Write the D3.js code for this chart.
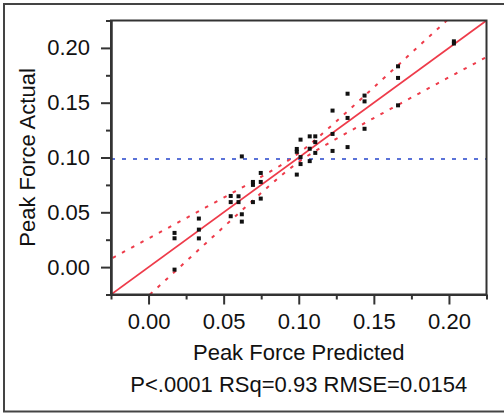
<!DOCTYPE html>
<html>
<head>
    <meta charset="utf-8">
    <title>Actual by Predicted Plot</title>
    <script src="https://cdn.jsdelivr.net/npm/d3@7"></script>
    <style>
        body {
            margin: 0;
            background: white;
        }
        text {
            font-family: "Liberation Sans", Arial, sans-serif;
            fill: #111;
        }
        .axis text {
            font-size: 22px;
        }
        .axis path, .axis line {
            stroke: #333;
            stroke-width: 2;
        }
    </style>
</head>
<body>
<div id="chart"></div>
<script>
    // Data: predicted vs actual peak force
    const predicted = [
        0.0173, 0.0173, 0.0173,
        0.0335, 0.0335, 0.0335,
        0.0547, 0.0547, 0.0547,
        0.0599, 0.0599,
        0.0621, 0.0621, 0.0621,
        0.0695, 0.0695, 0.0695,
        0.0747, 0.0747, 0.0747,
        0.0987, 0.0987, 0.0987,
        0.1012, 0.1012, 0.1012,
        0.1073, 0.1073, 0.1073,
        0.1110, 0.1110, 0.1110,
        0.1225, 0.1225, 0.1225,
        0.1325, 0.1325, 0.1325,
        0.1438, 0.1438, 0.1438,
        0.1661, 0.1661, 0.1661,
        0.2033, 0.2033
    ];
    const actual = [
        0.0312, 0.0263, -0.0023,
        0.0443, 0.0342, 0.0262,
        0.0649, 0.0593, 0.0464,
        0.0646, 0.0593,
        0.1010, 0.0482, 0.0415,
        0.0777, 0.0750, 0.0593,
        0.0859, 0.0777, 0.0625,
        0.1078, 0.1052, 0.0844,
        0.1163, 0.1004, 0.0940,
        0.1193, 0.1080, 0.0967,
        0.1193, 0.1140, 0.1042,
        0.1428, 0.1215, 0.1060,
        0.1582, 0.1361, 0.1095,
        0.1565, 0.1512, 0.1262,
        0.1832, 0.1726, 0.1476,
        0.2060, 0.2040
    ];
    const majorTicks = [0.00, 0.05, 0.10, 0.15, 0.20];
    const minorTicks = [-0.025, 0.025, 0.075, 0.125, 0.175, 0.225];
    const meanActual = 0.0987;
    // confidence curve shape: offset = sqrt(bandA + bandB * (x - mean)^2)
    const bandA = 0.000016;
    const bandB = 0.0686;
    const xTitle = "Peak Force Predicted";
    const yTitle = "Peak Force Actual";
    const statsText = "P<.0001 RSq=0.93 RMSE=0.0154";

    const W = 504, H = 414;
    const margin = {top: 20.5, left: 111};
    const width = 375.5, height = 274;

    const svg = d3.select("#chart").append("svg")
        .attr("width", W)
        .attr("height", H);

    // outer frame (right side runs off the picture)
    svg.append("rect")
        .attr("x", 4).attr("y", 4)
        .attr("width", W + 10).attr("height", 407.5)
        .attr("fill", "none")
        .attr("stroke", "#444")
        .attr("stroke-width", 2);

    const g = svg.append("g")
        .attr("transform", `translate(${margin.left},${margin.top})`);

    const x = d3.scaleLinear().domain([-0.025, 0.225]).range([0, width]);
    const y = d3.scaleLinear().domain([-0.025, 0.225]).range([height, 0]);

    g.append("clipPath").attr("id", "clip")
        .append("rect").attr("width", width).attr("height", height);

    const plot = g.append("g").attr("clip-path", "url(#clip)");

    // mean line
    plot.append("line")
        .attr("x1", 0).attr("x2", width)
        .attr("y1", y(meanActual)).attr("y2", y(meanActual))
        .attr("stroke", "#5a72d8")
        .attr("stroke-width", 2)
        .attr("stroke-dasharray", "4,7");

    // confidence curves
    const xs = d3.range(-0.03, 0.2301, 0.002);
    const band = v => Math.sqrt(bandA + bandB * (v - meanActual) ** 2);
    const curve = d3.line().x(d => x(d[0])).y(d => y(d[1]));
    [1, -1].forEach(sign => {
        plot.append("path")
            .datum(xs.map(v => [v, v + sign * band(v)]))
            .attr("d", curve)
            .attr("fill", "none")
            .attr("stroke", "#ee3b4a")
            .attr("stroke-width", 2)
            .attr("stroke-dasharray", "3.5,7");
    });

    // fit line
    plot.append("line")
        .attr("x1", x(-0.025)).attr("y1", y(-0.025))
        .attr("x2", x(0.225)).attr("y2", y(0.225))
        .attr("stroke", "#ee3b4a")
        .attr("stroke-width", 1.8);

    // points
    plot.selectAll(".pt")
        .data(predicted.map((p, i) => [p, actual[i]]))
        .join("rect")
        .attr("class", "pt")
        .attr("x", d => x(d[0]) - 2)
        .attr("y", d => y(d[1]) - 2)
        .attr("width", 4)
        .attr("height", 4)
        .attr("fill", "#111");

    // axes: minor ticks first, then labelled ones
    g.append("g").attr("class", "axis")
        .attr("transform", `translate(0,${height})`)
        .call(d3.axisBottom(x).tickValues(minorTicks).tickSize(5).tickSizeOuter(0).tickFormat(""));
    g.append("g").attr("class", "axis")
        .attr("transform", `translate(0,${height})`)
        .call(d3.axisBottom(x).tickValues(majorTicks).tickSize(10).tickSizeOuter(0)
            .tickPadding(9).tickFormat(d3.format(".2f")));

    g.append("g").attr("class", "axis")
        .call(d3.axisLeft(y).tickValues(minorTicks).tickSize(5).tickSizeOuter(0).tickFormat(""));
    g.append("g").attr("class", "axis")
        .call(d3.axisLeft(y).tickValues(majorTicks).tickSize(10).tickSizeOuter(0)
            .tickPadding(11).tickFormat(d3.format(".2f")));

    // plot frame
    g.append("rect")
        .attr("width", width).attr("height", height)
        .attr("fill", "none")
        .attr("stroke", "#333")
        .attr("stroke-width", 2);

    // titles
    g.append("text")
        .attr("x", width / 2)
        .attr("y", height + 65.5)
        .attr("text-anchor", "middle")
        .style("font-size", "22px")
        .text(xTitle);

    g.append("text")
        .attr("x", width / 2)
        .attr("y", height + 97)
        .attr("text-anchor", "middle")
        .style("font-size", "22px")
        .text(statsText);

    svg.append("text")
        .attr("transform", `translate(35,${margin.top + height / 2}) rotate(-90)`)
        .attr("text-anchor", "middle")
        .style("font-size", "22px")
        .text(yTitle);
</script>
</body>
</html>
